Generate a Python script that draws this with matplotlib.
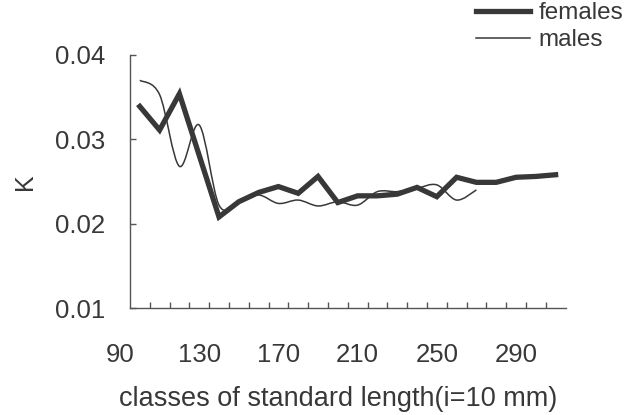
import matplotlib
matplotlib.use('Agg')
import matplotlib.pyplot as plt
import numpy as np
from matplotlib.path import Path
from matplotlib.patches import PathPatch
from matplotlib.lines import Line2D

plt.rcParams['font.family'] = ['Liberation Sans', 'DejaVu Sans']

# classes of standard length (mm) and condition factor K
females_x = [100, 110, 120, 130, 140, 150, 160, 170, 180, 190, 200, 210,
             220, 230, 240, 250, 260, 270, 280, 290, 300, 310]
females_k = [0.0339, 0.0311, 0.0354, 0.0281, 0.0208, 0.0226, 0.0237, 0.0244,
             0.0236, 0.0256, 0.0225, 0.0233, 0.0233, 0.0235, 0.0243, 0.0232,
             0.0255, 0.0249, 0.0249, 0.0255, 0.0256, 0.0258]

males_x = [100, 110, 120, 130, 140, 150, 160, 170, 180, 190, 200, 210,
           220, 230, 240, 250, 260, 270]
males_k = [0.0370, 0.0353, 0.0268, 0.0317, 0.0222, 0.0226, 0.0234, 0.0224,
           0.0228, 0.0221, 0.0226, 0.0222, 0.0238, 0.0238, 0.0242, 0.0246,
           0.0228, 0.0240]

x_labels = [90, 130, 170, 210, 250, 290]
y_ticks = [0.01, 0.02, 0.03, 0.04]

grey = '#383838'
axis_grey = '#555555'


def smooth_path(xs, ys):
    # Excel-style smoothed line: Catmull-Rom segments as cubic Beziers
    pts = np.column_stack([xs, ys])
    verts = [pts[0]]
    codes = [Path.MOVETO]
    n = len(pts)
    for i in range(n - 1):
        p0 = pts[max(i - 1, 0)]
        p1 = pts[i]
        p2 = pts[i + 1]
        p3 = pts[min(i + 2, n - 1)]
        c1 = p1 + (p2 - p0) / 6.0
        c2 = p2 - (p3 - p1) / 6.0
        verts += [c1, c2, p2]
        codes += [Path.CURVE4] * 3
    return Path(verts, codes)


fig = plt.figure(figsize=(6.25, 4.15), dpi=100)
ax = fig.add_axes([100.2 / 625, 1 - 308 / 415, 475.2 / 625, 253 / 415])

ax.plot(females_x, females_k, color=grey, lw=3.8, solid_joinstyle='miter',
        clip_on=False)
ax.add_patch(PathPatch(smooth_path(males_x, males_k), fill=False,
                       edgecolor=grey, lw=1.1, clip_on=False))

ax.set_xlim(80, 320)
ax.set_ylim(0.01, 0.04)

for s in ['top', 'right']:
    ax.spines[s].set_visible(False)
ax.spines['left'].set_position(('data', 95))
ax.spines['bottom'].set_bounds(95, 315)
for s in ['left', 'bottom']:
    ax.spines[s].set_color(axis_grey)
    ax.spines[s].set_linewidth(1.0)

ax.set_xticks(x_labels)
ax.set_xticklabels([str(v) for v in x_labels])
ax.set_xticks(np.arange(105, 310, 10), minor=True)
ax.tick_params(axis='x', which='major', length=0, pad=25, labelsize=18.5,
               labelcolor=grey)
ax.tick_params(axis='x', which='minor', direction='in', length=4,
               width=1.0, color=axis_grey)

ax.set_yticks(y_ticks)
ax.set_yticklabels(['0.01', '0.02', '0.03', '0.04'])
ax.tick_params(axis='y', direction='in', length=4, width=1.0,
               color=axis_grey, pad=18, labelsize=18.5, labelcolor=grey)

ax.set_xlabel('classes of standard length(i=10 mm)', fontsize=19.5,
              color=grey, labelpad=14)
ax.set_ylabel('K', fontsize=18, color=grey, labelpad=13)

handles = [Line2D([], [], color=grey, lw=3.8),
           Line2D([], [], color=grey, lw=1.1)]
fig.legend(handles, ['females', 'males'], loc='upper right',
           bbox_to_anchor=(1.02, 1.03), frameon=False, fontsize=17.5,
           handlelength=2.2, handletextpad=0.35, labelspacing=0.2,
           borderpad=0.1, labelcolor=grey)

fig.savefig('out.png', dpi=100)
